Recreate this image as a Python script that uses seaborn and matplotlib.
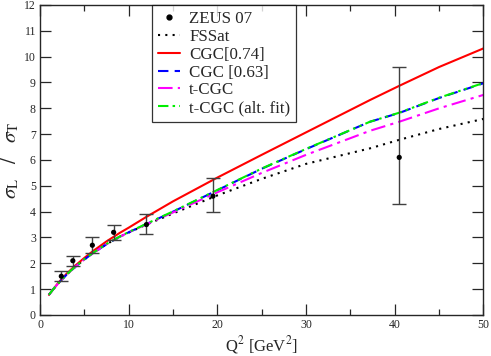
import matplotlib
matplotlib.use("Agg")
import matplotlib.pyplot as plt
import seaborn as sns
import numpy as np
from matplotlib.ticker import MultipleLocator

# ZEUS 07 data points
q2_data = [2.4, 3.7, 5.9, 8.3, 12.0, 19.5, 40.5]
r_data = [1.5, 2.1, 2.7, 3.2, 3.5, 4.6, 6.1]
r_low = [1.33, 1.9, 2.4, 2.9, 3.15, 4.0, 4.3]
r_high = [1.7, 2.3, 3.0, 3.5, 3.9, 5.3, 9.6]

# model curves
q2_curve = [1, 1.5, 2, 3, 4, 5, 6, 7.5, 9, 10, 12, 15, 20, 25, 30, 37.2, 40.5, 45, 50]
fssat = [0.78, 1.0, 1.2, 1.56, 1.87, 2.15, 2.4, 2.74, 3.03, 3.19, 3.5, 3.93,
         4.63, 5.27, 5.85, 6.45, 6.78, 7.2, 7.59]
cgc_074 = [0.78, 1.0, 1.22, 1.6, 1.92, 2.21, 2.48, 2.85, 3.18, 3.38, 3.8, 4.4,
           5.32, 6.2, 7.07, 8.32, 8.87, 9.6, 10.32]
cgc_063 = [0.78, 1.0, 1.2, 1.56, 1.87, 2.15, 2.4, 2.74, 3.03, 3.2, 3.52, 4.0,
           4.83, 5.66, 6.42, 7.48, 7.82, 8.4, 8.97]
tcgc = [0.78, 1.0, 1.2, 1.56, 1.87, 2.15, 2.4, 2.74, 3.03, 3.2, 3.51, 3.97,
        4.75, 5.5, 6.2, 7.13, 7.48, 8.0, 8.52]
tcgc_alt = [0.78, 1.0, 1.21, 1.57, 1.88, 2.16, 2.41, 2.75, 3.04, 3.21, 3.53, 4.01,
            4.84, 5.67, 6.43, 7.48, 7.83, 8.41, 8.98]

sns.set_style("ticks")
plt.rcParams["font.family"] = ["Liberation Serif", "DejaVu Serif"]
plt.rcParams["mathtext.fontset"] = "stix"

fig = plt.figure(figsize=(4.91, 3.56), dpi=100)
ax = fig.add_axes([0.0815, 0.1152, 0.9032, 0.8708])

curves = [
    ("FSSat", fssat, "black", (0, (1, 2.5))),
    ("CGC[0.74]", cgc_074, "#ff0000", "-"),
    ("CGC [0.63]", cgc_063, "#0000ff", (0, (5, 3))),
    ("t-CGC", tcgc, "#ff00ff", (0, (7, 2.5, 1.5, 2.5))),
    ("t-CGC (alt. fit)", tcgc_alt, "#00ee00", (0, (5, 2, 1.2, 2, 1.2, 2))),
]

handles = []
yerr = [np.array(r_data) - np.array(r_low), np.array(r_high) - np.array(r_data)]
ax.errorbar(q2_data, r_data, yerr=yerr, fmt="none", ecolor="#404040",
            elinewidth=1.0, capsize=5, capthick=1.0, zorder=3)
sns.scatterplot(x=q2_data, y=r_data, color="black", s=14, edgecolor="none",
                ax=ax, zorder=4)
handles.append(plt.Line2D([], [], marker="o", color="black", markersize=3.5,
                          linestyle="none", label="ZEUS 07"))

for name, vals, col, ls in curves:
    sns.lineplot(x=q2_curve, y=vals, color=col, linestyle=ls, linewidth=1.5,
                 ax=ax, zorder=2)
    handles.append(plt.Line2D([], [], color=col, linestyle=ls, linewidth=1.5,
                              label=name))

ax.set_xlim(0, 50)
ax.set_ylim(0, 12)
ax.xaxis.set_major_locator(MultipleLocator(10))
ax.xaxis.set_minor_locator(MultipleLocator(5))
ax.yaxis.set_major_locator(MultipleLocator(1))
ax.tick_params(which="both", direction="in", top=True, right=True, labelsize=8.5,
               width=0.9, pad=3)
ax.tick_params(which="major", length=8)
ax.tick_params(which="minor", length=4)
for s in ax.spines.values():
    s.set_linewidth(1.0)

ax.set_xlabel(r"Q$^2$ [GeV$^2$]", fontsize=12, labelpad=2)
ax.set_ylabel(r"$\sigma_{\rm L}\ \ \ /\ \ \ \sigma_{\rm T}$", fontsize=15, labelpad=2)

leg = ax.legend(handles=handles, loc="upper left", bbox_to_anchor=(0.2525, 1.0),
                borderaxespad=0, fontsize=12.2, frameon=True, fancybox=False,
                handlelength=1.3, handletextpad=0.55, borderpad=0.35,
                labelspacing=0.11)
leg.get_frame().set_edgecolor("black")
leg.get_frame().set_linewidth(0.9)

fig.savefig("out.png", dpi=100)
